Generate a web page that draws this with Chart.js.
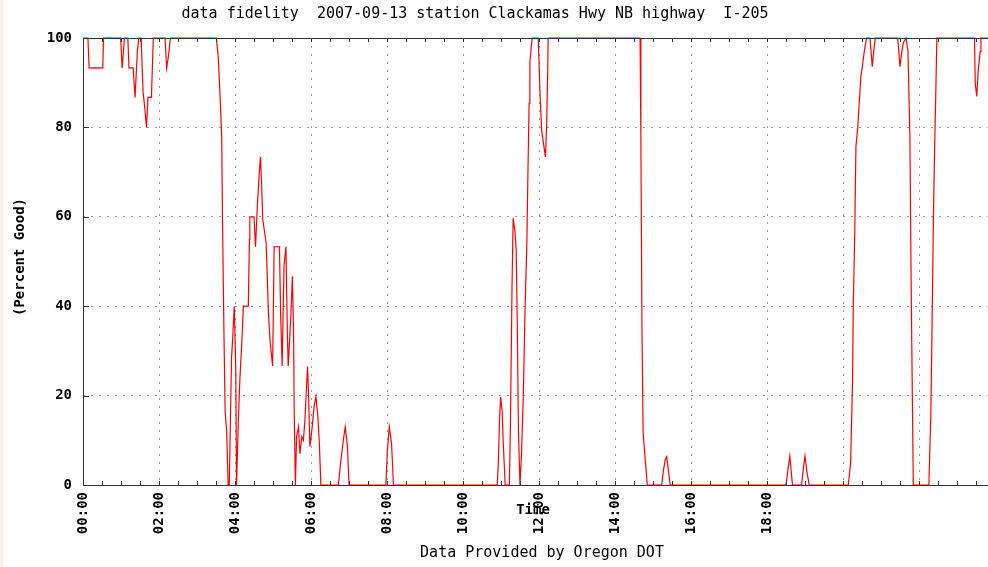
<!DOCTYPE html>
<html>
<head>
<meta charset="utf-8">
<style>
  html, body { margin: 0; padding: 0; background: #fff; overflow: hidden; }
  #wrap { width: 988px; height: 567px; overflow: hidden; position: relative; }
  canvas { position: absolute; left: 0; top: 0; }
</style>
<script src="https://cdn.jsdelivr.net/npm/chart.js@4"></script>
</head>
<body>
<div id="wrap"><canvas id="chart" width="1000" height="567"></canvas></div>
<script>
// -----------------------------
// Data
// -----------------------------
const titleText = "data fidelity  2007-09-13 station Clackamas Hwy NB highway  I-205";
const xTitle = "Time";
const yTitle = "(Percent Good)";
const footer = "Data Provided by Oregon DOT";

// hours since midnight
const hours = [
  0, 0.13, 0.16, 0.52, 0.54, 0.99, 1.03, 1.09, 1.18, 1.21, 1.32, 1.37, 1.43, 1.47,
  1.53, 1.58, 1.63, 1.67, 1.71, 1.8, 1.85, 2.16, 2.2, 2.25, 2.3,
  3.51, 3.56, 3.61, 3.65, 3.67, 3.71, 3.74, 3.78, 3.82, 3.85, 3.89, 3.91, 3.94, 3.98,
  4.02, 4.04, 4.09, 4.13, 4.18, 4.22, 4.35, 4.38, 4.39, 4.5, 4.54, 4.59, 4.64, 4.67,
  4.7, 4.73, 4.82, 4.88, 4.92, 4.99, 5.03, 5.17, 5.2, 5.24, 5.29, 5.34, 5.38, 5.4,
  5.47, 5.51, 5.54, 5.56, 5.59, 5.62, 5.67, 5.71, 5.76, 5.8, 5.84, 5.89, 5.91, 5.94,
  5.97, 6.02, 6.08, 6.13, 6.18, 6.22, 6.26,
  6.72, 6.78, 6.85, 6.9, 6.96, 7.0,
  7.97, 8.01, 8.06, 8.12, 8.17,
  10.9, 10.93, 10.96, 10.99, 11.03, 11.06, 11.11, 11.22, 11.25, 11.29, 11.32, 11.37,
  11.4, 11.43, 11.46, 11.5, 11.54, 11.59, 11.63, 11.68, 11.71, 11.74, 11.76, 11.82,
  11.98, 12.03, 12.07, 12.13, 12.17, 12.2, 12.23, 12.24,
  14.66, 14.68, 14.71, 14.74, 14.79, 14.85, 15.23, 15.27, 15.32, 15.36, 15.41, 15.45,
  18.5, 18.56, 18.6, 18.67, 18.91, 18.96, 19.0, 19.05, 19.11,
  20.14, 20.2, 20.25, 20.27, 20.31, 20.34, 20.39, 20.42, 20.47, 20.52, 20.56, 20.62,
  20.71, 20.77, 20.82, 20.85, 21.44, 21.5, 21.54, 21.59, 21.66, 21.71, 21.76, 21.79,
  21.82, 21.85, 22.26, 22.31, 22.34, 22.38, 22.41, 22.44, 22.47,
  23.46, 23.48, 23.52, 23.56, 23.61, 23.63, 24
];

const percentGood = [
  100, 100, 93.3, 93.3, 100, 100, 93.3, 100, 100, 93.3, 93.3, 86.7, 97, 100,
  100, 88, 84, 80, 86.7, 86.7, 100, 100, 93.3, 96, 100,
  100, 95.7, 86.4, 77.8, 60, 33.4, 16.6, 12.1, 0, 0, 19.6, 28.6, 33, 40,
  26, 0, 15, 24, 32, 40, 40, 55, 60, 60, 53.3, 62.8, 70, 73.4,
  67.5, 59.4, 54.2, 38.5, 32.5, 26.6, 53.3, 53.3, 38.5, 26.6, 49, 53.3, 33, 26.6,
  37.8, 46.7, 34.8, 15, 0, 10.8, 13, 7, 10.8, 10, 14.5, 23.5, 26.5, 19,
  8.6, 12, 17.5, 19.8, 15.3, 9.3, 0,
  0, 5, 10, 13, 8.6, 0,
  0, 7.8, 13, 9.3, 0,
  0, 4.9, 14.5, 19.7, 16.5, 9.3, 0, 0, 14.5, 44.4, 59.7, 56.5,
  52.6, 34.7, 11.6, 0, 7, 21, 38.5, 54, 70.5, 85.4, 94.7, 100,
  100, 86.9, 79.4, 75.7, 73.4, 80.2, 92.8, 100,
  100, 78.7, 34.7, 11.6, 6.3, 0, 0, 3, 5.6, 6.3, 3, 0,
  0, 4, 6.5, 0, 0, 4, 6.5, 3, 0,
  0, 4.9, 22.7, 39.9, 57, 75.7, 80.2, 84.6, 91.3, 94.3, 97, 100,
  100, 93.6, 98, 100, 100, 93.6, 96.5, 99, 100, 97, 78, 48,
  23.5, 0, 0, 15.3, 33.2, 60, 75, 86.9, 100,
  100, 89.9, 86.9, 92.8, 97, 100, 100
];

const yTicks = [0, 20, 40, 60, 80, 100];
const lastLabelledHour = 18;

// -----------------------------
// Helpers
// -----------------------------
const MONO = '"DejaVu Sans Mono", "Liberation Mono", monospace';
const pad2 = n => String(n).padStart(2, "0");

// gnuplot-ish frame, inward ticks and the loose texts
const decorations = {
  id: "decorations",
  beforeDraw(c) {
    const ctx = c.ctx;
    ctx.save();
    ctx.fillStyle = "#fdf0e4";
    ctx.fillRect(0, 0, 3, c.height);
    ctx.restore();
  },
  afterDraw(c) {
    const { ctx, chartArea: a } = c;
    const xs = c.scales.x, ys = c.scales.y;
    ctx.save();
    ctx.strokeStyle = "#333";
    ctx.lineWidth = 1;
    ctx.strokeRect(a.left + 0.5, a.top + 0.5, a.right - a.left, a.bottom - a.top);

    ctx.beginPath();
    for (let h = 0; h <= 24; h += 0.5) {
      const px = Math.round(xs.getPixelForValue(h)) + 0.5;
      ctx.moveTo(px, a.bottom); ctx.lineTo(px, a.bottom - 4);
      ctx.moveTo(px, a.top); ctx.lineTo(px, a.top + 4);
    }
    yTicks.forEach(v => {
      const py = Math.round(ys.getPixelForValue(v)) + 0.5;
      ctx.moveTo(a.left, py); ctx.lineTo(a.left + 6, py);
      ctx.moveTo(a.right, py); ctx.lineTo(a.right - 6, py);
    });
    ctx.stroke();

    ctx.fillStyle = "#000";
    ctx.textAlign = "center";
    ctx.textBaseline = "middle";
    ctx.font = "15px " + MONO;
    ctx.fillText(titleText, 475, 14);
    ctx.font = "bold 14px " + MONO;
    ctx.fillText(xTitle, 533, 510);
    ctx.font = "15px " + MONO;
    ctx.fillText(footer, 542, 553);

    ctx.translate(20, 257);
    ctx.rotate(-Math.PI / 2);
    ctx.font = "bold 14px " + MONO;
    ctx.fillText(yTitle, 0, 0);
    ctx.restore();
  }
};

// -----------------------------
// Chart
// -----------------------------
const ctx = document.getElementById("chart").getContext("2d");

new Chart(ctx, {
  type: "line",
  data: {
    datasets: [{
      data: hours.map((h, i) => ({ x: h, y: percentGood[i] })),
      borderColor: "#ff0000",
      borderWidth: 1.2,
      pointRadius: 0,
      tension: 0,
      clip: 3
    }]
  },
  options: {
    responsive: false,
    animation: false,
    devicePixelRatio: 1,
    layout: { padding: { left: 0, top: 38, right: 5, bottom: 0 } },
    plugins: { legend: { display: false }, tooltip: { enabled: false } },
    scales: {
      x: {
        type: "linear",
        min: 0,
        max: 24,
        afterFit: s => { s.height = 82; s.paddingLeft = 0; s.paddingRight = 0; },
        grid: { color: "#9a9a9a", lineWidth: 1, drawTicks: false },
        border: { display: false, dash: [2, 6] },
        ticks: {
          stepSize: 2,
          autoSkip: false,
          minRotation: 90,
          maxRotation: 90,
          padding: 7,
          color: "#000",
          font: { family: MONO, size: 14, weight: "bold" },
          callback: v => (v <= lastLabelledHour ? pad2(v) + ":00" : "")
        }
      },
      y: {
        min: 0,
        max: 100,
        afterFit: s => { s.width = 83; s.paddingTop = 0; s.paddingBottom = 0; },
        grid: { color: "#9a9a9a", lineWidth: 1, drawTicks: false },
        border: { display: false, dash: [2, 6] },
        ticks: {
          stepSize: 20,
          padding: 11,
          color: "#000",
          font: { family: MONO, size: 14, weight: "bold" }
        }
      }
    }
  },
  plugins: [decorations]
});
</script>
</body>
</html>
